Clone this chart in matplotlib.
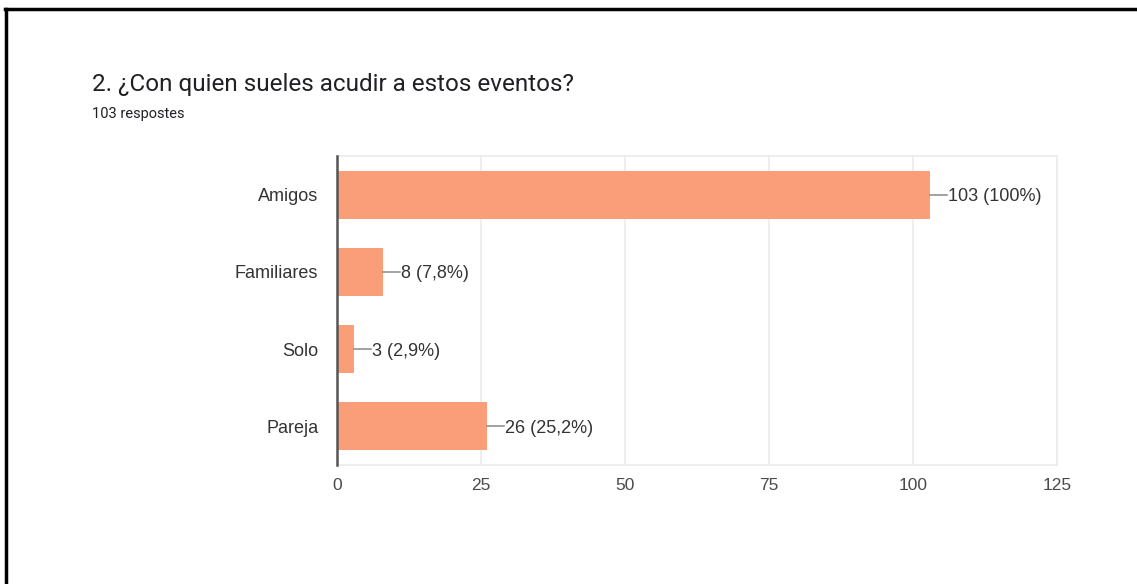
import matplotlib
matplotlib.use("Agg")
import matplotlib.pyplot as plt
from matplotlib.lines import Line2D

categories = ["Amigos", "Familiares", "Solo", "Pareja"]
values = [103, 8, 3, 26]
labels = ["103 (100%)", "8 (7,8%)", "3 (2,9%)", "26 (25,2%)"]
xticks = [0, 25, 50, 75, 100, 125]

plt.rcParams['font.family'] = ['Liberation Sans', 'DejaVu Sans']

W, H = 1137, 584
fig = plt.figure(figsize=(W / 100, H / 100), dpi=100)
fig.patch.set_facecolor("white")

# frame lines
fig.add_artist(Line2D([5 / W, 1], [1 - 9 / H, 1 - 9 / H], color="black", lw=2.5))
fig.add_artist(Line2D([6 / W, 6 / W], [0, 1 - 9 / H], color="black", lw=2.5))

left, right, top, bottom = 337, 1057, 156, 465
ax = fig.add_axes([left / W, 1 - bottom / H, (right - left) / W, (bottom - top) / H])

ypos = list(range(len(categories)))
ax.barh(ypos, values, height=0.62, color="#F99E78", zorder=3)
ax.set_xlim(0, 125)
ax.set_ylim(len(categories) - 0.5, -0.5)
ax.set_xticks(xticks)
ax.set_xticklabels([str(t) for t in xticks])
ax.set_yticks(ypos)
ax.set_yticklabels(categories)
ax.tick_params(axis="x", length=0, pad=9, labelsize=12.5, labelcolor="#4a4a4a")
ax.tick_params(axis="y", length=0, pad=13.5, labelsize=13, labelcolor="#333333")
ax.grid(axis="x", color="#ebebeb", lw=1.2, zorder=0)
for s in ["top", "right", "bottom"]:
    ax.spines[s].set_color("#ebebeb")
    ax.spines[s].set_linewidth(1.2)
ax.spines["left"].set_color("#555555")
ax.spines["left"].set_linewidth(1.8)
ax.spines["left"].set_zorder(5)

px = 125 / (right - left)
for y, v, lab in zip(ypos, values, labels):
    ax.plot([v, v + 17 * px], [y, y], color="#888888", lw=1.1, zorder=4, clip_on=False)
    ax.text(v + 18 * px, y, lab, va="center_baseline", ha="left", fontsize=13,
            color="#333333", zorder=4)

fig.text(92 / W, 1 - 84 / H, "2. ¿Con quien sueles acudir a estos eventos?", fontsize=17.5,
         color="#202124", va="center", ha="left", family=['Roboto', 'DejaVu Sans'])
fig.text(92 / W, 1 - 114 / H, "103 respostes", fontsize=10.5, color="#202124", va="center",
         ha="left", family=['Roboto', 'DejaVu Sans'])

fig.savefig("out.png", dpi=100)
